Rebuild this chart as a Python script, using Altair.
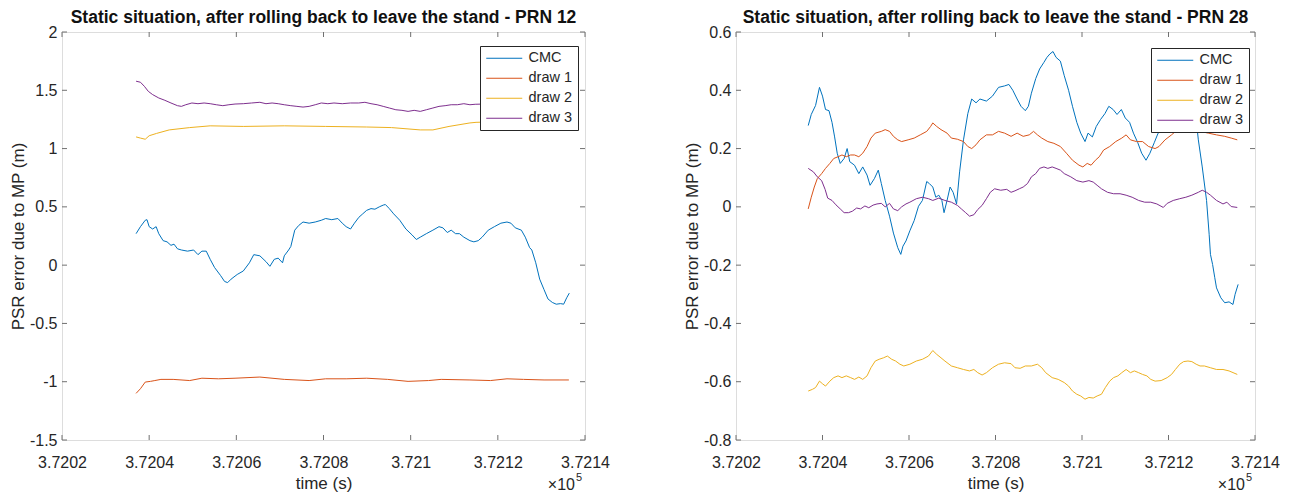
import altair as alt
import pandas as pd

SERIES = ["CMC", "draw 1", "draw 2", "draw 3"]
COLORS = ["#0072BD", "#D95319", "#EDB120", "#7E2F8E"]
T0 = 372020  # seconds; times below are seconds after T0

X_TICKS = [372020, 372040, 372060, 372080, 372100, 372120, 372140]
Y_TICKS_L = [-1.5, -1, -0.5, 0, 0.5, 1, 1.5, 2]
Y_TICKS_R = [-0.8, -0.6, -0.4, -0.2, 0, 0.2, 0.4, 0.6]

TITLE_L = "Static situation, after rolling back to leave the stand - PRN 12"
TITLE_R = "Static situation, after rolling back to leave the stand - PRN 28"

# ---------------- left panel (PRN 12) ----------------
l_cmc_s = [17.0, 18.0, 19.1, 19.5, 20.0, 20.8, 21.6, 22.2, 23.2, 24.1, 25.0, 25.7, 26.5, 27.4,
           28.8, 30.2, 31.2, 32.1, 33.1, 34.0, 35.0, 36.4, 37.3, 38.0, 38.8, 40.2, 41.6, 43.0,
           44.0, 45.4, 46.8, 47.7, 48.7, 49.6, 50.6, 51.0, 52.0, 52.5, 53.4, 54.3, 55.3, 56.7,
           58.1, 59.5, 60.5, 61.9, 63.3, 64.3, 65.2, 66.2, 67.1, 68.1, 69.0, 69.9, 70.9, 71.8,
           72.8, 73.7, 74.2, 75.1, 76.1, 77.5, 78.9, 80.3, 81.3, 82.2, 83.6, 85.1, 86.5, 87.4,
           88.4, 89.3, 90.3, 91.2, 92.2, 93.6, 94.5, 95.5, 96.4, 97.8, 99.2, 100.7, 102.1, 103.0,
           104.0, 105.4, 106.3, 107.3, 107.8, 108.7, 109.6, 110.6, 111.5, 112.5, 113.4, 114.4,
           115.1, 115.8, 116.4]
l_cmc_v = [0.27, 0.33, 0.385, 0.39, 0.33, 0.31, 0.33, 0.27, 0.21, 0.20, 0.17, 0.18, 0.14, 0.13,
           0.12, 0.13, 0.09, 0.12, 0.12, 0.05, -0.02, -0.09, -0.14, -0.15, -0.12, -0.08, -0.05, 0.02,
           0.09, 0.08, 0.03, -0.01, 0.05, 0.06, 0.02, 0.08, 0.13, 0.16, 0.30, 0.34, 0.37, 0.36,
           0.37, 0.385, 0.40, 0.39, 0.40, 0.36, 0.33, 0.31, 0.36, 0.41, 0.44, 0.47, 0.485, 0.48,
           0.50, 0.515, 0.52, 0.485, 0.44, 0.385, 0.31, 0.26, 0.22, 0.24, 0.27, 0.30, 0.33, 0.32,
           0.28, 0.30, 0.27, 0.27, 0.24, 0.21, 0.20, 0.21, 0.24, 0.30, 0.33, 0.36, 0.37, 0.36,
           0.32, 0.30, 0.24, 0.15, 0.13, 0.02, -0.12, -0.21, -0.29, -0.32, -0.335, -0.33,
           -0.335, -0.28, -0.24]

l_d1_s = [17.0, 18.0, 19.1, 20.3, 21.3, 22.7, 25.5, 29.3, 32.1, 35.9, 39.7, 45.4, 51.0, 56.7,
          60.5, 65.2, 69.9, 74.7, 79.4, 84.1, 87.0, 93.6, 98.3, 102.1, 105.9, 110.6, 116.3]
l_d1_v = [-1.10, -1.06, -1.003, -0.997, -0.99, -0.98, -0.98, -0.99, -0.97, -0.975, -0.97, -0.96,
          -0.98, -0.99, -0.975, -0.975, -0.97, -0.98, -0.997, -0.99, -0.98, -0.985, -0.99, -0.975,
          -0.98, -0.985, -0.985]

l_d2_s = [17.0, 18.0, 19.1, 20.0, 21.7, 24.6, 29.3, 34.0, 41.6, 51.0, 60.5, 69.9, 75.6, 82.2,
          85.1, 88.8, 93.6, 95.0, 100.0, 106.0, 112.0, 116.3]
l_d2_v = [1.10, 1.09, 1.08, 1.11, 1.13, 1.16, 1.18, 1.195, 1.19, 1.195, 1.19, 1.185, 1.18, 1.16,
          1.16, 1.19, 1.22, 1.225, 1.23, 1.23, 1.235, 1.24]

l_d3_s = [17.0, 18.0, 18.9, 19.8, 20.8, 22.2, 23.6, 25.0, 26.5, 27.4, 28.4, 29.8, 31.2, 32.6,
          34.0, 35.4, 36.9, 38.3, 39.7, 41.6, 43.5, 45.4, 46.8, 48.2, 49.6, 51.0, 52.5, 53.9,
          55.3, 56.7, 58.1, 59.5, 61.0, 62.4, 64.3, 66.2, 68.1, 69.5, 70.9, 72.3, 73.7, 75.1,
          76.6, 78.0, 79.4, 80.8, 82.2, 83.6, 85.1, 86.5, 87.9, 89.3, 90.7, 92.2, 93.6, 94.8,
          100.0, 106.0, 112.0, 116.3]
l_d3_v = [1.578, 1.569, 1.534, 1.491, 1.463, 1.434, 1.414, 1.391, 1.368, 1.362, 1.376, 1.391,
          1.385, 1.391, 1.385, 1.376, 1.368, 1.376, 1.382, 1.385, 1.391, 1.397, 1.385, 1.391,
          1.385, 1.376, 1.368, 1.362, 1.356, 1.362, 1.376, 1.391, 1.385, 1.391, 1.385, 1.391,
          1.391, 1.397, 1.385, 1.376, 1.362, 1.348, 1.333, 1.328, 1.319, 1.328, 1.319, 1.333,
          1.348, 1.362, 1.368, 1.376, 1.376, 1.385, 1.376, 1.38, 1.385, 1.39, 1.385, 1.38]

# ---------------- right panel (PRN 28) ----------------
r_cmc_s = [16.7, 17.4, 18.4, 19.3, 20.0, 20.7, 21.5, 22.2, 22.8, 23.4, 24.1, 25.0, 25.7, 26.3,
           27.4, 28.4, 29.3, 30.3, 31.0, 32.0, 32.9, 33.6, 34.5, 35.5, 36.4, 37.4, 38.1, 38.6,
           39.3, 40.2, 41.2, 42.2, 43.1, 44.1, 44.7, 45.5, 46.2, 46.9, 47.6, 48.1, 48.8, 49.5,
           50.2, 51.0, 51.7, 52.6, 53.6, 54.5, 55.5, 56.4, 57.9, 59.3, 60.7, 62.1, 63.1, 64.0,
           65.0, 65.9, 66.9, 67.6, 68.3, 69.3, 70.2, 71.2, 71.9, 72.6, 73.3, 74.0, 75.0, 75.9,
           76.9, 77.8, 78.8, 79.7, 80.7, 81.4, 82.4, 83.3, 84.3, 85.3, 86.2, 87.2, 88.1, 89.1,
           90.0, 91.0, 91.9, 92.9, 93.8, 94.8, 95.7, 96.7, 97.6, 98.8, 101.6, 104.5, 106.4,
           106.9, 107.8, 108.8, 109.4, 109.7, 110.2, 110.7, 111.1, 112.1, 113.0, 114.0, 114.9,
           115.4, 116.1]
r_cmc_v = [0.279, 0.317, 0.348, 0.41, 0.38, 0.334, 0.33, 0.29, 0.24, 0.184, 0.149, 0.166, 0.20,
           0.155, 0.143, 0.114, 0.137, 0.109, 0.074, 0.097, 0.126, 0.08, 0.022, -0.032, -0.09,
           -0.14, -0.163, -0.135, -0.117, -0.082, -0.047, 0.002, 0.022, 0.087, 0.08, 0.068, 0.033,
           0.04, 0.022, -0.02, 0.022, 0.068, 0.05, 0.01, 0.12, 0.23, 0.32, 0.37, 0.357, 0.37,
           0.363, 0.38, 0.41, 0.415, 0.42, 0.40, 0.37, 0.345, 0.33, 0.345, 0.39, 0.44, 0.473,
           0.496, 0.513, 0.525, 0.533, 0.513, 0.50, 0.45, 0.40, 0.345, 0.29, 0.253, 0.224, 0.253,
           0.24, 0.276, 0.30, 0.32, 0.345, 0.334, 0.317, 0.334, 0.305, 0.29, 0.253, 0.22, 0.184,
           0.16, 0.184, 0.22, 0.253, 0.27, 0.30, 0.33, 0.30, 0.23, 0.137, 0.022, -0.094, -0.163,
           -0.198, -0.243, -0.278, -0.312, -0.329, -0.326, -0.335, -0.30, -0.266]

r_d1_s = [16.7, 17.4, 18.1, 18.8, 19.8, 20.7, 21.7, 22.6, 23.6, 24.5, 25.5, 26.5, 27.4, 28.4,
          29.3, 30.3, 31.2, 32.2, 33.6, 34.5, 35.5, 36.4, 37.4, 38.3, 39.8, 41.2, 42.6, 44.1,
          45.0, 45.5, 46.4, 47.4, 48.8, 49.8, 51.2, 52.6, 53.6, 54.5, 55.5, 56.4, 57.9, 59.3,
          60.7, 62.1, 63.6, 65.0, 66.4, 67.8, 68.8, 69.7, 70.7, 72.1, 73.5, 75.0, 76.4, 77.8,
          79.3, 80.2, 81.2, 82.1, 83.1, 84.0, 85.0, 86.4, 87.8, 89.2, 90.2, 91.2, 92.6, 94.0,
          95.4, 96.9, 97.8, 99.2, 100.7, 102.1, 104.0, 107.3, 109.2, 111.1, 113.0, 114.5, 115.9]
r_d1_v = [-0.007, 0.033, 0.068, 0.097, 0.114, 0.132, 0.149, 0.166, 0.172, 0.178, 0.172, 0.178,
          0.178, 0.172, 0.184, 0.207, 0.236, 0.253, 0.259, 0.265, 0.259, 0.242, 0.23, 0.224,
          0.23, 0.236, 0.247, 0.259, 0.276, 0.288, 0.276, 0.265, 0.253, 0.236, 0.232, 0.224,
          0.207, 0.20, 0.213, 0.23, 0.247, 0.247, 0.259, 0.253, 0.242, 0.253, 0.242, 0.247,
          0.259, 0.247, 0.236, 0.224, 0.218, 0.207, 0.184, 0.16, 0.143, 0.137, 0.149, 0.143,
          0.16, 0.172, 0.195, 0.207, 0.224, 0.236, 0.247, 0.23, 0.224, 0.224, 0.207, 0.20,
          0.207, 0.23, 0.247, 0.265, 0.27, 0.259, 0.253, 0.247, 0.242, 0.236, 0.23]

r_d2_s = [16.7, 17.7, 18.4, 19.3, 20.0, 20.7, 21.7, 22.6, 23.6, 24.5, 25.5, 26.5, 27.4, 28.4,
          29.3, 30.3, 31.2, 32.2, 33.1, 34.1, 35.0, 36.0, 36.9, 37.9, 38.8, 40.2, 41.7, 43.1,
          44.5, 45.5, 46.4, 47.4, 48.3, 49.8, 51.2, 52.6, 54.0, 55.0, 55.9, 56.9, 57.9, 59.3,
          60.7, 62.1, 63.6, 64.5, 65.7, 66.9, 68.3, 69.7, 70.7, 71.6, 73.1, 74.5, 75.9, 76.9,
          77.8, 78.8, 79.7, 80.7, 81.6, 82.6, 83.5, 84.5, 85.4, 86.4, 87.3, 88.3, 89.2, 90.2,
          91.2, 92.1, 93.1, 94.0, 95.0, 95.9, 96.9, 98.3, 99.7, 100.7, 101.6, 102.6, 103.5,
          104.5, 105.4, 106.4, 107.3, 108.3, 109.7, 111.1, 112.6, 114.0, 115.9]
r_d2_v = [-0.632, -0.626, -0.62, -0.598, -0.607, -0.615, -0.598, -0.586, -0.58, -0.586, -0.58,
          -0.586, -0.592, -0.584, -0.592, -0.58, -0.552, -0.529, -0.523, -0.518, -0.512, -0.523,
          -0.529, -0.54, -0.546, -0.54, -0.529, -0.523, -0.512, -0.493, -0.506, -0.518, -0.529,
          -0.546, -0.552, -0.558, -0.563, -0.558, -0.569, -0.577, -0.569, -0.552, -0.54, -0.535,
          -0.538, -0.552, -0.554, -0.546, -0.546, -0.54, -0.552, -0.569, -0.586, -0.592, -0.603,
          -0.615, -0.632, -0.643, -0.649, -0.66, -0.654, -0.656, -0.649, -0.643, -0.62, -0.598,
          -0.586, -0.58, -0.569, -0.558, -0.569, -0.563, -0.569, -0.575, -0.58, -0.592, -0.598,
          -0.596, -0.586, -0.575, -0.558, -0.54, -0.531, -0.529, -0.531, -0.54, -0.546, -0.546,
          -0.552, -0.558, -0.558, -0.563, -0.575]

r_d3_s = [16.7, 17.9, 18.8, 19.8, 20.6, 21.2, 22.2, 23.1, 24.1, 25.0, 26.0, 26.9, 27.9, 28.8,
          29.8, 30.7, 31.7, 32.6, 33.6, 34.5, 35.5, 36.4, 37.4, 38.3, 39.3, 40.2, 41.7, 43.1,
          44.5, 45.5, 46.9, 48.3, 49.8, 51.2, 52.1, 53.1, 54.0, 55.0, 55.9, 56.9, 57.9, 58.8,
          59.8, 61.2, 62.6, 63.6, 64.5, 65.5, 66.4, 67.4, 68.3, 69.3, 70.2, 71.2, 72.1, 73.1,
          74.0, 75.0, 75.9, 77.4, 78.8, 80.2, 81.6, 82.6, 83.5, 84.5, 85.9, 87.3, 88.8, 90.2,
          91.6, 93.1, 94.5, 95.9, 97.3, 98.8, 99.7, 101.1, 102.6, 104.0, 105.4, 106.9, 107.8,
          108.8, 109.7, 111.1, 112.6, 113.5, 114.5, 115.9]
r_d3_v = [0.132, 0.12, 0.103, 0.09, 0.06, 0.03, 0.022, 0.007, -0.007, -0.02, -0.02, -0.015,
          -0.004, -0.007, 0.003, -0.003, 0.006, 0.01, 0.012, 0.0, 0.012, -0.007, -0.013, 0.0,
          0.01, 0.016, 0.028, 0.033, 0.028, 0.022, 0.03, 0.022, 0.016, 0.005, -0.007, -0.02,
          -0.032, -0.027, -0.009, 0.005, 0.028, 0.05, 0.062, 0.057, 0.06, 0.05, 0.055, 0.062,
          0.068, 0.08, 0.103, 0.114, 0.132, 0.137, 0.132, 0.137, 0.132, 0.126, 0.114, 0.103,
          0.09, 0.085, 0.09, 0.085, 0.074, 0.062, 0.05, 0.045, 0.045, 0.04, 0.033, 0.022, 0.016,
          0.016, 0.01, -0.002, 0.012, 0.022, 0.028, 0.033, 0.04, 0.05, 0.057, 0.05, 0.04, 0.022,
          0.01, 0.016, 0.001, -0.002]

FONT = "Liberation Sans"
TXT = "#262626"
BOX = "#707070"


def table(pairs):
    rows = []
    for name, ss, vv in pairs:
        for s, v in zip(ss, vv):
            rows.append({"t": T0 + s, "v": v, "series": name})
    return pd.DataFrame(rows)


def panel(df, title, yticks, ydom, w, h, lx, ly):
    xs = alt.Scale(domain=[X_TICKS[0], X_TICKS[-1]], nice=False, zero=False)
    ys = alt.Scale(domain=ydom, nice=False, zero=False)
    xaxis = alt.Axis(
        values=X_TICKS, labelExpr="toString(datum.value / 100000)", ticks=False,
        domain=False, grid=False, labelFontSize=16, labelPadding=14, labelColor=TXT,
        labelFont=FONT, title="time (s)", titleFont=FONT, titleFontSize=17,
        titleFontWeight="normal", titleColor=TXT, titlePadding=5, labelFlush=False)
    yaxis = alt.Axis(
        values=yticks, labelExpr="toString(datum.value)", ticks=False, domain=False,
        grid=False, labelFontSize=16, labelPadding=5, labelColor=TXT, labelFont=FONT,
        title="PSR error due to MP (m)", titleFont=FONT, titleFontSize=17,
        titleFontWeight="normal", titleColor=TXT, titlePadding=2, labelFlush=False)

    lines = alt.Chart(df).mark_line(strokeWidth=1, clip=True).encode(
        x=alt.X("t:Q", scale=xs, axis=xaxis),
        y=alt.Y("v:Q", scale=ys, axis=yaxis),
        color=alt.Color("series:N", sort=SERIES,
                        scale=alt.Scale(domain=SERIES, range=COLORS),
                        legend=alt.Legend(
                            orient="none", legendX=lx, legendY=ly, title=None,
                            symbolType="M-3,0L3,0", symbolSize=144, symbolStrokeWidth=1,
                            symbolOffset=12, labelOffset=17,
                            labelFont=FONT, labelFontSize=14.5, labelColor=TXT,
                            strokeColor="#262626", fillColor="white", padding=5,
                            rowPadding=5)),
    )

    xt = pd.DataFrame({"t": X_TICKS})
    yt = pd.DataFrame({"v": yticks})
    tick = dict(color=BOX, strokeWidth=1)
    top = alt.Chart(xt).mark_rule(**tick).encode(
        x=alt.X("t:Q", scale=xs, axis=xaxis), y=alt.value(0), y2=alt.value(5))
    bot = alt.Chart(xt).mark_rule(**tick).encode(
        x=alt.X("t:Q", scale=xs, axis=xaxis), y=alt.value(h), y2=alt.value(h - 5))
    left = alt.Chart(yt).mark_rule(**tick).encode(
        y=alt.Y("v:Q", scale=ys, axis=yaxis), x=alt.value(0), x2=alt.value(5))
    right = alt.Chart(yt).mark_rule(**tick).encode(
        y=alt.Y("v:Q", scale=ys, axis=yaxis), x=alt.value(w - 5), x2=alt.value(w))

    one = pd.DataFrame({"a": [0]})
    exp1 = alt.Chart(one).mark_text(font=FONT, fontSize=16, color=TXT, align="right",
                                    baseline="alphabetic").encode(
        x=alt.value(w - 10), y=alt.value(h + 50), text=alt.value("\u00d710"))
    exp2 = alt.Chart(one).mark_text(font=FONT, fontSize=11, color=TXT, align="left",
                                    baseline="alphabetic").encode(
        x=alt.value(w - 9), y=alt.value(h + 41), text=alt.value("5"))

    return alt.layer(lines, top, bot, left, right, exp1, exp2).properties(
        width=w, height=h,
        title=alt.TitleParams(title, font=FONT, fontSize=17.5, fontWeight="bold",
                              color="#111111", anchor="middle", offset=-2))


df_l = table([("CMC", l_cmc_s, l_cmc_v), ("draw 1", l_d1_s, l_d1_v),
              ("draw 2", l_d2_s, l_d2_v), ("draw 3", l_d3_s, l_d3_v)])
df_r = table([("CMC", r_cmc_s, r_cmc_v), ("draw 1", r_d1_s, r_d1_v),
              ("draw 2", r_d2_s, r_d2_v), ("draw 3", r_d3_s, r_d3_v)])

pl = panel(df_l, TITLE_L, Y_TICKS_L, [-1.5, 2], 523, 408, 418, 14)
pr = panel(df_r, TITLE_R, Y_TICKS_R, [-0.8, 0.6], 519, 408, 415, 16)

chart = alt.hconcat(pl, pr, spacing=151, bounds="flush").resolve_scale(
    color="independent").resolve_legend(color="independent").properties(
    padding={"left": 0, "top": 0, "right": 0, "bottom": 0}
).configure_view(stroke=BOX, strokeWidth=1).configure(background="white")

chart.save("out.html", embed_options={"renderer": "svg", "actions": False})
